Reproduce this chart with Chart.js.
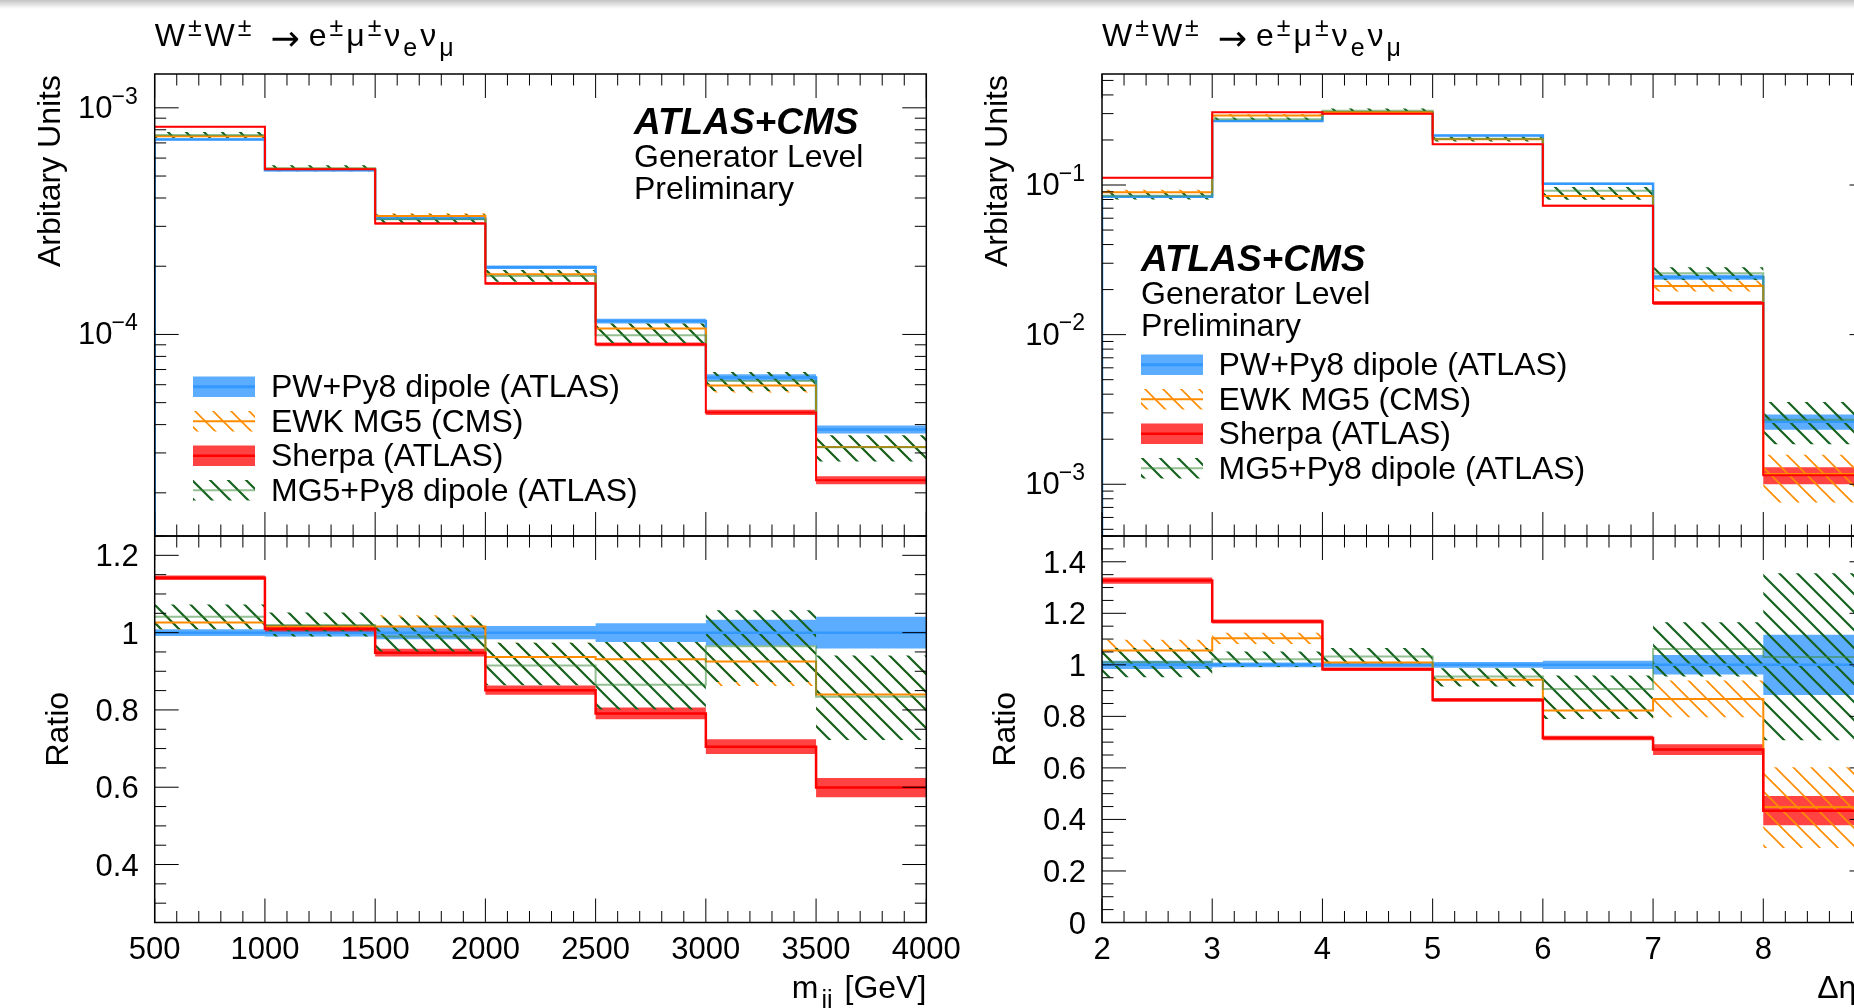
<!DOCTYPE html>
<html>
<head>
<meta charset="utf-8">
<script src="https://cdn.jsdelivr.net/npm/chart.js@4.4.1/dist/chart.umd.min.js"></script>
<style>
html,body{margin:0;padding:0;overflow:hidden;background:#fff;width:1854px;height:1008px;}
canvas{position:absolute;left:0;top:0;}
#shade{position:absolute;left:0;top:0;width:1854px;height:9px;background:linear-gradient(#c4c4c4,rgba(255,255,255,0));z-index:10;}
</style>
</head>
<body>
<canvas id="cLU" width="1950" height="1008"></canvas>
<canvas id="cLL" width="1950" height="1008"></canvas>
<canvas id="cRU" width="1950" height="1008"></canvas>
<canvas id="cRL" width="1950" height="1008"></canvas>
<div id="shade"></div>
<script>
// ---------------- DATA ----------------
// m_jj panel
const mjjEdges = [500, 1000, 1500, 2000, 2500, 3000, 3500, 4000];
const mjjTickLabels = ['500', '1000', '1500', '2000', '2500', '3000', '3500', '4000'];
const mjjLogExps = [-3, -4];
const mjjPW     = [7.25e-4, 5.30e-4, 3.25e-4, 1.98e-4, 1.146e-4, 6.46e-5, 3.81e-5];
const mjjEWK    = [7.50e-4, 5.38e-4, 3.33e-4, 1.845e-4, 1.063e-4, 5.95e-5, 3.19e-5];
const mjjSherpa = [8.25e-4, 5.36e-4, 3.09e-4, 1.68e-4, 9.04e-5, 4.53e-5, 2.275e-5];
const mjjMG5    = [7.59e-4, 5.41e-4, 3.22e-4, 1.81e-4, 9.91e-5, 6.23e-5, 3.18e-5];
const mjjRatioPW     = [1, 1, 1, 1, 1, 1, 1];
const mjjPWErr       = [0.009, 0.010, 0.017, 0.017, 0.024, 0.033, 0.041];
const mjjRatioSherpa = [1.142, 1.010, 0.948, 0.851, 0.791, 0.705, 0.599];
const mjjSherpaErr   = [0.006, 0.010, 0.010, 0.012, 0.015, 0.019, 0.025];
const mjjRatioEWK    = [1.026, 1.016, 1.016, 0.937, 0.931, 0.925, 0.840];
const mjjEWKLo       = [1.008, 0.996, 0.987, 0.900, 0.886, 0.862, 0.750];
const mjjEWKHi       = [1.044, 1.036, 1.045, 0.974, 0.976, 0.988, 0.930];
const mjjRatioMG5    = [1.041, 1.020, 0.990, 0.915, 0.865, 0.965, 0.834];
const mjjMG5Lo       = [1.009, 0.990, 0.948, 0.864, 0.801, 0.872, 0.722];
const mjjMG5Hi       = [1.073, 1.052, 1.039, 0.974, 0.976, 1.058, 0.941];
const mjjRatioTickVals   = [0.4, 0.6, 0.8, 1.0, 1.2];
const mjjRatioTickLabels = ['0.4', '0.6', '0.8', '1', '1.2'];

// Delta eta_jj panel
const detaEdges = [2, 3, 4, 5, 6, 7, 8, 9];
const detaTickLabels = ['2', '3', '4', '5', '6', '7', '8', '9'];
const detaLogExps = [-1, -2, -3];
const detaPW     = [0.0835, 0.268, 0.304, 0.214, 0.102, 0.0242, 2.62e-3];
const detaEWK    = [0.0894, 0.292, 0.307, 0.202, 0.0843, 0.0211, 1.17e-3];
const detaSherpa = [0.112, 0.306, 0.299, 0.187, 0.0728, 0.0163, 1.15e-3];
const detaMG5    = [0.0848, 0.275, 0.314, 0.204, 0.0915, 0.0257, 2.70e-3];
const detaRatioPW     = [1, 1, 1, 1, 1, 1, 1];
const detaPWErr       = [0.016, 0.009, 0.009, 0.011, 0.016, 0.038, 0.117];
const detaRatioSherpa = [1.327, 1.168, 0.983, 0.864, 0.716, 0.671, 0.434];
const detaSherpaErr   = [0.012, 0.008, 0.007, 0.007, 0.009, 0.021, 0.057];
const detaRatioEWK    = [1.056, 1.103, 1.009, 0.942, 0.823, 0.867, 0.448];
const detaEWKLo       = [1.015, 1.081, 0.997, 0.918, 0.790, 0.797, 0.289];
const detaEWKHi       = [1.097, 1.125, 1.021, 0.966, 0.871, 0.939, 0.603];
const detaRatioMG5    = [1.010, 1.022, 1.032, 0.955, 0.906, 1.061, 1.030];
const detaMG5Lo       = [0.952, 0.992, 0.998, 0.916, 0.790, 0.955, 0.707];
const detaMG5Hi       = [1.065, 1.052, 1.065, 0.987, 0.959, 1.165, 1.355];
const detaRatioTickVals   = [0, 0.2, 0.4, 0.6, 0.8, 1.0, 1.2, 1.4];
const detaRatioTickLabels = ['0', '0.2', '0.4', '0.6', '0.8', '1', '1.2', '1.4'];

const legendLabels = ['PW+Py8 dipole (ATLAS)', 'EWK MG5 (CMS)', 'Sherpa (ATLAS)', 'MG5+Py8 dipole (ATLAS)'];

// ---------------- STYLE ----------------
const FONT = '"Liberation Sans", Arial, Helvetica, sans-serif';
const CW = 1950, CH = 1008;
const C = {
  pwBand: 'rgba(51,153,255,0.8)', pwLine: 'rgb(51,153,255)',
  shBand: 'rgba(255,0,0,0.74)', shLine: 'rgb(255,0,0)',
  ewkLine: 'rgb(255,140,0)', mgLine: 'rgba(60,140,60,0.55)'
};
function makeHatch(color, lw) {
  const s = 18;
  const t = document.createElement('canvas'); t.width = s; t.height = s;
  const g = t.getContext('2d');
  g.strokeStyle = color; g.lineWidth = lw;
  g.beginPath();
  g.moveTo(-4, -4); g.lineTo(s + 4, s + 4);
  g.moveTo(s - 4, -4); g.lineTo(s + 4, 4);
  g.moveTo(-4, s - 4); g.lineTo(4, s + 4);
  g.stroke();
  return g.createPattern(t, 'repeat');
}
const ewkHatch = makeHatch('rgb(255,140,0)', 1.6);
const mgHatch = makeHatch('rgb(22,98,32)', 2.2);

// ---------------- DATASETS ----------------
const base = {stepped: true, pointRadius: 0, pointHoverRadius: 0, pointHitRadius: 0, tension: 0, fill: false};
function steps(edges, vals) { return edges.map((e, i) => ({x: e, y: vals[Math.min(i, vals.length - 1)]})); }
function band(edges, lo, hi, style, order) {
  return [
    Object.assign({}, base, {data: steps(edges, lo), borderColor: 'rgba(0,0,0,0)', borderWidth: 1, order}),
    Object.assign({}, base, {data: steps(edges, hi), borderColor: 'rgba(0,0,0,0)', borderWidth: 1, fill: '-1', backgroundColor: style, order})
  ];
}
function hline(edges, vals, color, width, order, pre) {
  const d = steps(edges, vals);
  if (pre !== undefined) d.unshift({x: edges[0], y: pre});
  return Object.assign({}, base, {data: d, borderColor: color, borderWidth: width, order});
}
function upperSets(E, pw, pwErr, sh, shR, shErr, ewk, ewkR, ewkLo, ewkHi, mg, mgR, mgLo, mgHi, dropY) {
  return [
    ...band(E, pw.map((v, i) => v * (1 - pwErr[i])), pw.map((v, i) => v * (1 + pwErr[i])), C.pwBand, 100),
    ...band(E, sh.map((v, i) => v * (1 - shErr[i] / shR[i])), sh.map((v, i) => v * (1 + shErr[i] / shR[i])), C.shBand, 90),
    ...band(E, ewk.map((v, i) => v * ewkLo[i] / ewkR[i]), ewk.map((v, i) => v * ewkHi[i] / ewkR[i]), ewkHatch, 80),
    ...band(E, mg.map((v, i) => v * mgLo[i] / mgR[i]), mg.map((v, i) => v * mgHi[i] / mgR[i]), mgHatch, 70),
    hline(E, pw, C.pwLine, 2.5, 40, dropY),
    hline(E, ewk, C.ewkLine, 2, 30),
    hline(E, mg, C.mgLine, 2, 25),
    hline(E, sh, C.shLine, 2, 20)
  ];
}
function ratioSets(E, pwR, pwErr, shR, shErr, ewkR, ewkLo, ewkHi, mgR, mgLo, mgHi) {
  return [
    ...band(E, pwR.map((v, i) => v - pwErr[i]), pwR.map((v, i) => v + pwErr[i]), C.pwBand, 100),
    ...band(E, shR.map((v, i) => v - shErr[i]), shR.map((v, i) => v + shErr[i]), C.shBand, 90),
    ...band(E, ewkLo, ewkHi, ewkHatch, 80),
    ...band(E, mgLo, mgHi, mgHatch, 70),
    hline(E, pwR, C.pwLine, 2.5, 40),
    hline(E, ewkR, C.ewkLine, 2, 30),
    hline(E, mgR, C.mgLine, 2, 25),
    hline(E, shR, C.shLine, 2.5, 20)
  ];
}

// ---------------- TEXT HELPERS ----------------
function rich(ctx, x, y, parts, size, align) {
  const ss = size * 0.78, gap = 3;
  const items = parts.map(p => {
    const o = typeof p === 'string' ? {t: p} : p;
    const m = o.m || 0;
    const fs = o.s || (m ? ss : size);
    const fam = o.f || FONT;
    ctx.font = fs + 'px ' + fam;
    return {t: o.t, m, fs, fam, dy: o.dy || 0, w: ctx.measureText(o.t).width};
  });
  let total = 0;
  items.forEach(it => { total += it.w + (it.m ? 2 * gap : 0); });
  let cx = align === 'right' ? x - total : x;
  ctx.textAlign = 'left'; ctx.textBaseline = 'alphabetic';
  items.forEach(it => {
    if (it.m) cx += gap;
    ctx.font = it.fs + 'px ' + it.fam;
    const dy = it.m === 1 ? -0.33 * size : (it.m === -1 ? 0.3 * size : 0);
    ctx.fillText(it.t, cx, y + dy + it.dy);
    cx += it.w + (it.m ? gap : 0);
  });
}
function rotText(ctx, x, y, text, size, align) {
  ctx.save(); ctx.translate(x, y); ctx.rotate(-Math.PI / 2);
  ctx.font = size + 'px ' + FONT; ctx.textAlign = align; ctx.textBaseline = 'alphabetic';
  ctx.fillText(text, 0, 0); ctx.restore();
}
function logLabel(ctx, xr, y, exp) {
  const big = 31, small = 23;
  const sup = '\u2212' + Math.abs(exp);
  ctx.font = small + 'px ' + FONT; const ws = ctx.measureText(sup).width;
  ctx.font = big + 'px ' + FONT; const wb = ctx.measureText('10').width;
  const x = xr - ws - wb + 1;
  ctx.textAlign = 'left'; ctx.textBaseline = 'alphabetic';
  ctx.fillText('10', x, y + 10);
  ctx.font = small + 'px ' + FONT; ctx.fillText(sup, x + wb - 1, y + 10 - 14.3);
}
function legend(ctx, sx, tx, y0, dy) {
  const kinds = ['pw', 'ewk', 'sh', 'mg'];
  kinds.forEach((k, i) => {
    const by = y0 + i * dy;
    const top = by - 20.5, h = 20.5, w = 62, mid = top + h / 2;
    ctx.save();
    if (k === 'pw') { ctx.fillStyle = C.pwBand; ctx.fillRect(sx, top, w, h); ctx.strokeStyle = C.pwLine; ctx.lineWidth = 3; }
    if (k === 'ewk') { ctx.fillStyle = ewkHatch; ctx.fillRect(sx, top, w, h); ctx.strokeStyle = C.ewkLine; ctx.lineWidth = 2; }
    if (k === 'sh') { ctx.fillStyle = C.shBand; ctx.fillRect(sx, top, w, h); ctx.strokeStyle = C.shLine; ctx.lineWidth = 2.5; }
    if (k === 'mg') { ctx.fillStyle = mgHatch; ctx.fillRect(sx, top, w, h); ctx.strokeStyle = C.mgLine; ctx.lineWidth = 2; }
    ctx.beginPath(); ctx.moveTo(sx, mid); ctx.lineTo(sx + w, mid); ctx.stroke();
    ctx.restore();
    ctx.fillStyle = '#000'; ctx.font = '32px ' + FONT; ctx.textAlign = 'left'; ctx.textBaseline = 'alphabetic';
    ctx.fillText(legendLabels[i], tx, by);
  });
}
function atlasBlock(ctx, x, y) {
  ctx.fillStyle = '#000'; ctx.textAlign = 'left'; ctx.textBaseline = 'alphabetic';
  ctx.font = 'italic bold 37px ' + FONT; ctx.fillText('ATLAS+CMS', x, y);
  ctx.font = '32px ' + FONT;
  ctx.fillText('Generator Level', x, y + 32.5);
  ctx.fillText('Preliminary', x, y + 65);
}
const titleParts = ['W', {t: '\u00b1', m: 1}, 'W', {t: '\u00b1', m: 1}, '\u2002',
  {t: '\u2192', f: '"DejaVu Sans", sans-serif', s: 35, dy: 4}, ' e', {t: '\u00b1', m: 1}, '\u03bc', {t: '\u00b1', m: 1},
  '\u03bd', {t: 'e', m: -1}, '\u03bd', {t: '\u03bc', m: -1}];

// ---------------- TICKS ----------------
function linTicks(lo, hi, step, majorEvery) {
  const out = []; const n = Math.round((hi - lo) / step);
  for (let i = 0; i <= n; i++) out.push([lo + i * step, i % majorEvery === 0]);
  return out;
}
function logTicks(min, max) {
  const out = [];
  for (let e = Math.floor(Math.log10(min)); e <= Math.ceil(Math.log10(max)); e++) {
    for (let k = 1; k <= 9; k++) { const v = k * Math.pow(10, e); if (v >= min && v <= max) out.push([v, k === 1]); }
  }
  return out;
}
function decor(spec) {
  return {
    id: 'decor',
    afterDraw(chart) {
      const ctx = chart.ctx, a = chart.chartArea, xs = chart.scales.x, ys = chart.scales.y;
      ctx.save();
      ctx.strokeStyle = '#000'; ctx.lineWidth = 1;
      ctx.beginPath();
      spec.xTicks.forEach(([v, mj]) => {
        const p = xs.getPixelForValue(v), L = mj ? 24 : 11.5;
        ctx.moveTo(p, a.top); ctx.lineTo(p, a.top + L);
        ctx.moveTo(p, a.bottom); ctx.lineTo(p, a.bottom - L);
      });
      spec.yTicks.forEach(([v, mj]) => {
        const p = ys.getPixelForValue(v), L = mj ? 24 : 11.5;
        ctx.moveTo(a.left, p); ctx.lineTo(a.left + L, p);
        ctx.moveTo(a.right, p); ctx.lineTo(a.right - L, p);
      });
      ctx.stroke();
      ctx.lineWidth = 1.5;
      ctx.strokeRect(a.left, a.top, a.right - a.left, a.bottom - a.top);
      ctx.fillStyle = '#000';
      spec.draw(ctx, a, xs, ys);
      ctx.restore();
    }
  };
}
function mk(id, datasets, area, xr, yr, ylog, spec) {
  return new Chart(document.getElementById(id), {
    type: 'line',
    data: {datasets},
    options: {
      responsive: false, animation: false, devicePixelRatio: 1, events: [],
      layout: {padding: {left: area.x0, right: CW - area.x1, top: area.y0, bottom: CH - area.y1}},
      scales: {
        x: {type: 'linear', min: xr[0], max: xr[1], display: false},
        y: {type: ylog ? 'logarithmic' : 'linear', min: yr[0], max: yr[1], display: false}
      },
      plugins: {legend: {display: false}, tooltip: {enabled: false}}
    },
    plugins: [decor(spec)]
  });
}

// ---------------- LAYOUT ----------------
const LX = {x0: 154.7, x1: 926.3}, RX = {x0: 1102, x1: 1873.5};
const UY = {y0: 74, y1: 536}, BY = {y0: 536, y1: 922.5};
const mjjY = [1.29e-5, 1.41e-3], detaY = [4.51e-4, 0.552];
const mjjRY = [0.25, 1.25], detaRY = [0, 1.5];

function xLabels(ctx, xs, edges, labels) {
  ctx.font = '31px ' + FONT; ctx.textAlign = 'center'; ctx.textBaseline = 'alphabetic';
  edges.forEach((v, i) => ctx.fillText(labels[i], xs.getPixelForValue(v), 959.3));
}
function yLabels(ctx, a, ys, vals, labels) {
  ctx.font = '31px ' + FONT; ctx.textAlign = 'right'; ctx.textBaseline = 'alphabetic';
  vals.forEach((v, i) => ctx.fillText(labels[i], a.left - 16, ys.getPixelForValue(v) + 11));
}

mk('cLU',
  upperSets(mjjEdges, mjjPW, mjjPWErr, mjjSherpa, mjjRatioSherpa, mjjSherpaErr, mjjEWK, mjjRatioEWK, mjjEWKLo, mjjEWKHi, mjjMG5, mjjRatioMG5, mjjMG5Lo, mjjMG5Hi, 1e-9),
  {x0: LX.x0, x1: LX.x1, y0: UY.y0, y1: UY.y1}, [500, 4000], mjjY, true,
  {
    xTicks: linTicks(500, 4000, 100, 5), yTicks: logTicks(mjjY[0], mjjY[1]),
    draw(ctx, a, xs, ys) {
      rich(ctx, a.left, 46.4, titleParts, 32, 'left');
      rotText(ctx, a.left - 94.7, 75, 'Arbitary Units', 32, 'right');
      mjjLogExps.forEach(e => logLabel(ctx, a.left - 17, ys.getPixelForValue(Math.pow(10, e)), e));
      legend(ctx, 193, 271, 397, 34.5);
      atlasBlock(ctx, 634, 134);
    }
  });
mk('cLL',
  ratioSets(mjjEdges, mjjRatioPW, mjjPWErr, mjjRatioSherpa, mjjSherpaErr, mjjRatioEWK, mjjEWKLo, mjjEWKHi, mjjRatioMG5, mjjMG5Lo, mjjMG5Hi),
  {x0: LX.x0, x1: LX.x1, y0: BY.y0, y1: BY.y1}, [500, 4000], mjjRY, false,
  {
    xTicks: linTicks(500, 4000, 100, 5), yTicks: linTicks(0.25, 1.25, 0.05, 4).map(([v]) => [v, Math.abs(Math.round(v * 100) % 20) === 0]),
    draw(ctx, a, xs, ys) {
      yLabels(ctx, a, ys, mjjRatioTickVals, mjjRatioTickLabels);
      xLabels(ctx, xs, mjjEdges, mjjTickLabels);
      rotText(ctx, a.left - 86.7, (a.top + a.bottom) / 2, 'Ratio', 32, 'center');
      rich(ctx, a.right, 998.3, ['m', {t: 'jj', m: -1}, ' [GeV]'], 32, 'right');
    }
  });
mk('cRU',
  upperSets(detaEdges, detaPW, detaPWErr, detaSherpa, detaRatioSherpa, detaSherpaErr, detaEWK, detaRatioEWK, detaEWKLo, detaEWKHi, detaMG5, detaRatioMG5, detaMG5Lo, detaMG5Hi, 1e-9),
  {x0: RX.x0, x1: RX.x1, y0: UY.y0, y1: UY.y1}, [2, 9], detaY, true,
  {
    xTicks: linTicks(2, 9, 0.2, 5), yTicks: logTicks(detaY[0], detaY[1]),
    draw(ctx, a, xs, ys) {
      rich(ctx, a.left, 46.4, titleParts, 32, 'left');
      rotText(ctx, a.left - 94.7, 75, 'Arbitary Units', 32, 'right');
      detaLogExps.forEach(e => logLabel(ctx, a.left - 17, ys.getPixelForValue(Math.pow(10, e)), e));
      atlasBlock(ctx, 1141, 271.4);
      legend(ctx, 1141, 1218.6, 375, 34.5);
    }
  });
mk('cRL',
  ratioSets(detaEdges, detaRatioPW, detaPWErr, detaRatioSherpa, detaSherpaErr, detaRatioEWK, detaEWKLo, detaEWKHi, detaRatioMG5, detaMG5Lo, detaMG5Hi),
  {x0: RX.x0, x1: RX.x1, y0: BY.y0, y1: BY.y1}, [2, 9], detaRY, false,
  {
    xTicks: linTicks(2, 9, 0.2, 5), yTicks: linTicks(0, 1.5, 0.05, 4),
    draw(ctx, a, xs, ys) {
      yLabels(ctx, a, ys, detaRatioTickVals, detaRatioTickLabels);
      xLabels(ctx, xs, detaEdges, detaTickLabels);
      rotText(ctx, a.left - 86.7, (a.top + a.bottom) / 2, 'Ratio', 32, 'center');
      rich(ctx, a.right, 998.3, ['\u0394\u03b7', {t: 'jj', m: -1}], 32, 'right');
    }
  });
</script>
</body>
</html>
